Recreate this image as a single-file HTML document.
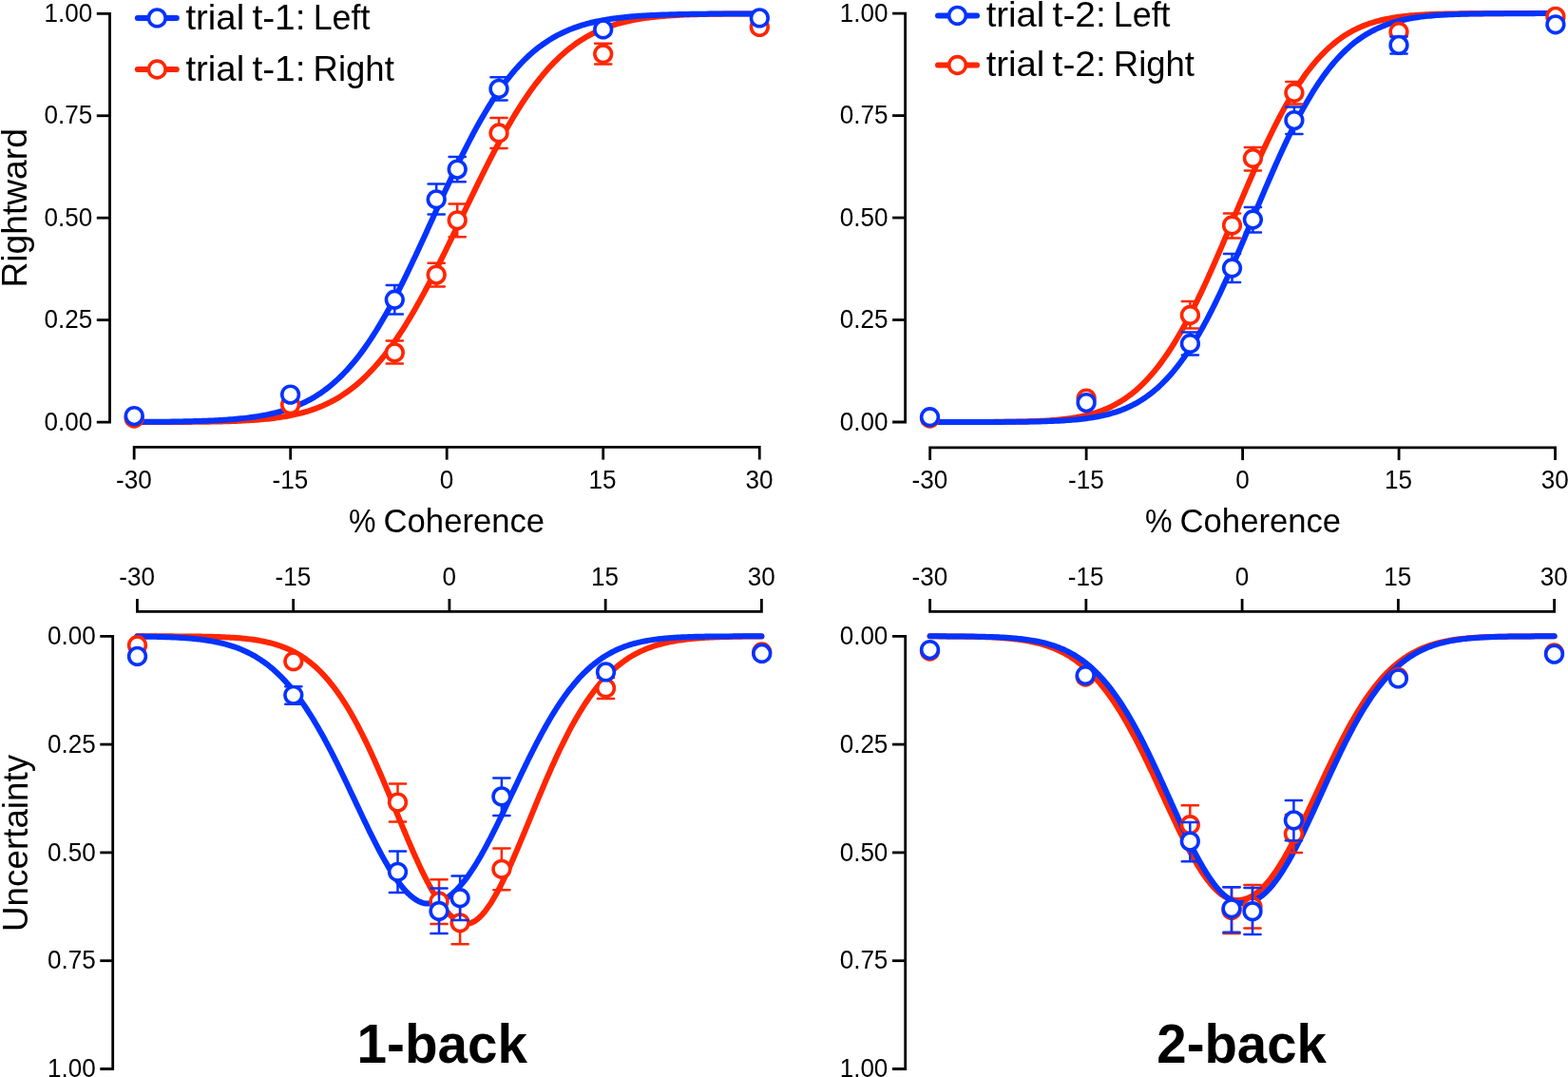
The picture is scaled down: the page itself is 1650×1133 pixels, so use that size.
<!DOCTYPE html>
<html><head><meta charset="utf-8"><title>Figure</title>
<style>html,body{margin:0;padding:0;background:#fff;overflow:hidden}svg{display:block}</style>
</head><body>
<svg width="1650" height="1133" viewBox="0 0 1650 1133" font-family='"Liberation Sans", Arial, sans-serif'>
<rect width="1650" height="1133" fill="#fff"/>
<path d="M101.80,14.30H115.50V444.10H101.80" fill="none" stroke="#000" stroke-width="2.8" stroke-linejoin="miter" stroke-linecap="butt"/>
<text transform="translate(46.47,452.80) scale(0.9650,1)" font-size="27" font-weight="normal">0.00</text>
<line x1="101.80" y1="336.65" x2="115.50" y2="336.65" stroke="#000" stroke-width="2.8" stroke-linecap="butt"/>
<text transform="translate(46.47,345.35) scale(0.9650,1)" font-size="27" font-weight="normal">0.25</text>
<line x1="101.80" y1="229.20" x2="115.50" y2="229.20" stroke="#000" stroke-width="2.8" stroke-linecap="butt"/>
<text transform="translate(46.47,237.90) scale(0.9650,1)" font-size="27" font-weight="normal">0.50</text>
<line x1="101.80" y1="121.75" x2="115.50" y2="121.75" stroke="#000" stroke-width="2.8" stroke-linecap="butt"/>
<text transform="translate(46.47,130.45) scale(0.9650,1)" font-size="27" font-weight="normal">0.75</text>
<text transform="translate(46.47,23.00) scale(0.9650,1)" font-size="27" font-weight="normal">1.00</text>
<path d="M141.16,483.60V470.30H799.24V483.60" fill="none" stroke="#000" stroke-width="2.8" stroke-linejoin="miter" stroke-linecap="butt"/>
<text transform="translate(122.07,514.00) scale(0.9650,1)" font-size="27" font-weight="normal">-30</text>
<line x1="305.68" y1="470.30" x2="305.68" y2="483.60" stroke="#000" stroke-width="2.8" stroke-linecap="butt"/>
<text transform="translate(286.59,514.00) scale(0.9650,1)" font-size="27" font-weight="normal">-15</text>
<line x1="470.20" y1="470.30" x2="470.20" y2="483.60" stroke="#000" stroke-width="2.8" stroke-linecap="butt"/>
<text transform="translate(462.77,514.00) scale(0.9650,1)" font-size="27" font-weight="normal">0</text>
<line x1="634.72" y1="470.30" x2="634.72" y2="483.60" stroke="#000" stroke-width="2.8" stroke-linecap="butt"/>
<text transform="translate(619.60,514.00) scale(0.9650,1)" font-size="27" font-weight="normal">15</text>
<text transform="translate(784.51,514.00) scale(0.9650,1)" font-size="27" font-weight="normal">30</text>
<path d="M939.10,14.10H952.60V444.00H939.10" fill="none" stroke="#000" stroke-width="2.8" stroke-linejoin="miter" stroke-linecap="butt"/>
<text transform="translate(883.77,452.70) scale(0.9650,1)" font-size="27" font-weight="normal">0.00</text>
<line x1="939.10" y1="336.52" x2="952.60" y2="336.52" stroke="#000" stroke-width="2.8" stroke-linecap="butt"/>
<text transform="translate(883.77,345.22) scale(0.9650,1)" font-size="27" font-weight="normal">0.25</text>
<line x1="939.10" y1="229.05" x2="952.60" y2="229.05" stroke="#000" stroke-width="2.8" stroke-linecap="butt"/>
<text transform="translate(883.77,237.75) scale(0.9650,1)" font-size="27" font-weight="normal">0.50</text>
<line x1="939.10" y1="121.58" x2="952.60" y2="121.58" stroke="#000" stroke-width="2.8" stroke-linecap="butt"/>
<text transform="translate(883.77,130.28) scale(0.9650,1)" font-size="27" font-weight="normal">0.75</text>
<text transform="translate(883.77,22.80) scale(0.9650,1)" font-size="27" font-weight="normal">1.00</text>
<path d="M978.65,484.10V470.80H1636.55V484.10" fill="none" stroke="#000" stroke-width="2.8" stroke-linejoin="miter" stroke-linecap="butt"/>
<text transform="translate(959.56,514.00) scale(0.9650,1)" font-size="27" font-weight="normal">-30</text>
<line x1="1143.12" y1="470.80" x2="1143.12" y2="484.10" stroke="#000" stroke-width="2.8" stroke-linecap="butt"/>
<text transform="translate(1124.04,514.00) scale(0.9650,1)" font-size="27" font-weight="normal">-15</text>
<line x1="1307.60" y1="470.80" x2="1307.60" y2="484.10" stroke="#000" stroke-width="2.8" stroke-linecap="butt"/>
<text transform="translate(1300.17,514.00) scale(0.9650,1)" font-size="27" font-weight="normal">0</text>
<line x1="1472.07" y1="470.80" x2="1472.07" y2="484.10" stroke="#000" stroke-width="2.8" stroke-linecap="butt"/>
<text transform="translate(1456.96,514.00) scale(0.9650,1)" font-size="27" font-weight="normal">15</text>
<text transform="translate(1621.82,514.00) scale(0.9650,1)" font-size="27" font-weight="normal">30</text>
<path d="M105.30,669.30H118.70V1124.50H105.30" fill="none" stroke="#000" stroke-width="2.8" stroke-linejoin="miter" stroke-linecap="butt"/>
<text transform="translate(49.97,678.00) scale(0.9650,1)" font-size="27" font-weight="normal">0.00</text>
<line x1="105.30" y1="783.10" x2="118.70" y2="783.10" stroke="#000" stroke-width="2.8" stroke-linecap="butt"/>
<text transform="translate(49.97,791.80) scale(0.9650,1)" font-size="27" font-weight="normal">0.25</text>
<line x1="105.30" y1="896.90" x2="118.70" y2="896.90" stroke="#000" stroke-width="2.8" stroke-linecap="butt"/>
<text transform="translate(49.97,905.60) scale(0.9650,1)" font-size="27" font-weight="normal">0.50</text>
<line x1="105.30" y1="1010.70" x2="118.70" y2="1010.70" stroke="#000" stroke-width="2.8" stroke-linecap="butt"/>
<text transform="translate(49.97,1019.40) scale(0.9650,1)" font-size="27" font-weight="normal">0.75</text>
<text transform="translate(49.97,1133.20) scale(0.9650,1)" font-size="27" font-weight="normal">1.00</text>
<path d="M144.40,630.00V643.30H801.40V630.00" fill="none" stroke="#000" stroke-width="2.8" stroke-linejoin="miter" stroke-linecap="butt"/>
<text transform="translate(125.31,616.30) scale(0.9650,1)" font-size="27" font-weight="normal">-30</text>
<line x1="308.65" y1="643.30" x2="308.65" y2="630.00" stroke="#000" stroke-width="2.8" stroke-linecap="butt"/>
<text transform="translate(289.56,616.30) scale(0.9650,1)" font-size="27" font-weight="normal">-15</text>
<line x1="472.90" y1="643.30" x2="472.90" y2="630.00" stroke="#000" stroke-width="2.8" stroke-linecap="butt"/>
<text transform="translate(465.47,616.30) scale(0.9650,1)" font-size="27" font-weight="normal">0</text>
<line x1="637.15" y1="643.30" x2="637.15" y2="630.00" stroke="#000" stroke-width="2.8" stroke-linecap="butt"/>
<text transform="translate(622.03,616.30) scale(0.9650,1)" font-size="27" font-weight="normal">15</text>
<text transform="translate(786.67,616.30) scale(0.9650,1)" font-size="27" font-weight="normal">30</text>
<path d="M939.00,669.30H952.70V1124.50H939.00" fill="none" stroke="#000" stroke-width="2.8" stroke-linejoin="miter" stroke-linecap="butt"/>
<text transform="translate(883.67,678.00) scale(0.9650,1)" font-size="27" font-weight="normal">0.00</text>
<line x1="939.00" y1="783.10" x2="952.70" y2="783.10" stroke="#000" stroke-width="2.8" stroke-linecap="butt"/>
<text transform="translate(883.67,791.80) scale(0.9650,1)" font-size="27" font-weight="normal">0.25</text>
<line x1="939.00" y1="896.90" x2="952.70" y2="896.90" stroke="#000" stroke-width="2.8" stroke-linecap="butt"/>
<text transform="translate(883.67,905.60) scale(0.9650,1)" font-size="27" font-weight="normal">0.50</text>
<line x1="939.00" y1="1010.70" x2="952.70" y2="1010.70" stroke="#000" stroke-width="2.8" stroke-linecap="butt"/>
<text transform="translate(883.67,1019.40) scale(0.9650,1)" font-size="27" font-weight="normal">0.75</text>
<text transform="translate(883.67,1133.20) scale(0.9650,1)" font-size="27" font-weight="normal">1.00</text>
<path d="M978.60,630.00V643.30H1635.60V630.00" fill="none" stroke="#000" stroke-width="2.8" stroke-linejoin="miter" stroke-linecap="butt"/>
<text transform="translate(959.51,616.30) scale(0.9650,1)" font-size="27" font-weight="normal">-30</text>
<line x1="1142.85" y1="643.30" x2="1142.85" y2="630.00" stroke="#000" stroke-width="2.8" stroke-linecap="butt"/>
<text transform="translate(1123.76,616.30) scale(0.9650,1)" font-size="27" font-weight="normal">-15</text>
<line x1="1307.10" y1="643.30" x2="1307.10" y2="630.00" stroke="#000" stroke-width="2.8" stroke-linecap="butt"/>
<text transform="translate(1299.67,616.30) scale(0.9650,1)" font-size="27" font-weight="normal">0</text>
<line x1="1471.35" y1="643.30" x2="1471.35" y2="630.00" stroke="#000" stroke-width="2.8" stroke-linecap="butt"/>
<text transform="translate(1456.23,616.30) scale(0.9650,1)" font-size="27" font-weight="normal">15</text>
<text transform="translate(1620.87,616.30) scale(0.9650,1)" font-size="27" font-weight="normal">30</text>
<text transform="translate(366.88,559.70) scale(0.8984,1)" font-size="35.7" font-weight="normal">%</text>
<text transform="translate(403.57,559.70) scale(0.9711,1)" font-size="35.7" font-weight="normal">Coherence</text>
<text transform="translate(1204.88,559.70) scale(0.8984,1)" font-size="35.7" font-weight="normal">%</text>
<text transform="translate(1241.57,559.70) scale(0.9711,1)" font-size="35.7" font-weight="normal">Coherence</text>
<text transform="translate(27.90,302.58) rotate(-90) scale(1.0191,1)" font-size="36.5" font-weight="normal">Rightward</text>
<text transform="translate(28.70,979.96) rotate(-90) scale(1.0084,1)" font-size="36.5" font-weight="normal">Uncertainty</text>
<text transform="translate(375.62,1118.30) scale(0.9766,1)" font-size="58" font-weight="bold">1-back</text>
<text transform="translate(1217.33,1118.30) scale(0.9717,1)" font-size="58" font-weight="bold">2-back</text>
<line x1="144.80" y1="18.90" x2="185.80" y2="18.90" stroke="#0433FF" stroke-width="6" stroke-linecap="round"/>
<circle cx="165.30" cy="18.90" r="8.85" fill="#fff" stroke="#0433FF" stroke-width="3.6"/>
<text transform="translate(195.43,30.80) scale(1.0493,1)" font-size="36.5" font-weight="normal">trial</text>
<text transform="translate(265.42,30.80) scale(1.0632,1)" font-size="36.5" font-weight="normal">t-1:</text>
<text transform="translate(329.63,30.80) scale(0.9814,1)" font-size="36.5" font-weight="normal">Left</text>
<line x1="144.80" y1="73.00" x2="185.80" y2="73.00" stroke="#FF2600" stroke-width="6" stroke-linecap="round"/>
<circle cx="165.30" cy="73.00" r="8.85" fill="#fff" stroke="#FF2600" stroke-width="3.6"/>
<text transform="translate(195.43,84.50) scale(1.0493,1)" font-size="36.5" font-weight="normal">trial</text>
<text transform="translate(265.42,84.50) scale(1.0632,1)" font-size="36.5" font-weight="normal">t-1:</text>
<text transform="translate(329.58,84.50) scale(1.0007,1)" font-size="36.5" font-weight="normal">Right</text>
<line x1="987.00" y1="16.40" x2="1028.00" y2="16.40" stroke="#0433FF" stroke-width="6" stroke-linecap="round"/>
<circle cx="1007.50" cy="16.40" r="8.85" fill="#fff" stroke="#0433FF" stroke-width="3.6"/>
<text transform="translate(1037.63,28.20) scale(1.0493,1)" font-size="36.5" font-weight="normal">trial</text>
<text transform="translate(1107.62,28.20) scale(1.0632,1)" font-size="36.5" font-weight="normal">t-2:</text>
<text transform="translate(1171.83,28.20) scale(0.9814,1)" font-size="36.5" font-weight="normal">Left</text>
<line x1="987.00" y1="68.50" x2="1028.00" y2="68.50" stroke="#FF2600" stroke-width="6" stroke-linecap="round"/>
<circle cx="1007.50" cy="68.50" r="8.85" fill="#fff" stroke="#FF2600" stroke-width="3.6"/>
<text transform="translate(1037.63,80.00) scale(1.0493,1)" font-size="36.5" font-weight="normal">trial</text>
<text transform="translate(1107.62,80.00) scale(1.0632,1)" font-size="36.5" font-weight="normal">t-2:</text>
<text transform="translate(1171.78,80.00) scale(1.0007,1)" font-size="36.5" font-weight="normal">Right</text>
<path d="M141.16,444.08 L143.35,444.08 L145.55,444.07 L147.74,444.07 L149.93,444.07 L152.13,444.06 L154.32,444.06 L156.52,444.06 L158.71,444.05 L160.90,444.05 L163.10,444.05 L165.29,444.04 L167.48,444.04 L169.68,444.03 L171.87,444.02 L174.06,444.02 L176.26,444.01 L178.45,444.00 L180.64,443.99 L182.84,443.98 L185.03,443.97 L187.23,443.96 L189.42,443.95 L191.61,443.94 L193.81,443.93 L196.00,443.91 L198.19,443.90 L200.39,443.88 L202.58,443.86 L204.77,443.84 L206.97,443.82 L209.16,443.79 L211.36,443.77 L213.55,443.74 L215.74,443.71 L217.94,443.68 L220.13,443.65 L222.32,443.61 L224.52,443.57 L226.71,443.53 L228.90,443.48 L231.10,443.44 L233.29,443.38 L235.48,443.33 L237.68,443.27 L239.87,443.20 L242.07,443.13 L244.26,443.06 L246.45,442.98 L248.65,442.90 L250.84,442.81 L253.03,442.71 L255.23,442.60 L257.42,442.49 L259.61,442.37 L261.81,442.25 L264.00,442.11 L266.20,441.97 L268.39,441.81 L270.58,441.65 L272.78,441.48 L274.97,441.29 L277.16,441.09 L279.36,440.88 L281.55,440.66 L283.74,440.42 L285.94,440.17 L288.13,439.90 L290.32,439.62 L292.52,439.32 L294.71,439.00 L296.91,438.66 L299.10,438.30 L301.29,437.92 L303.49,437.52 L305.68,437.10 L307.87,436.65 L310.07,436.18 L312.26,435.68 L314.45,435.15 L316.65,434.60 L318.84,434.02 L321.04,433.40 L323.23,432.76 L325.42,432.08 L327.62,431.36 L329.81,430.61 L332.00,429.83 L334.20,429.00 L336.39,428.13 L338.58,427.23 L340.78,426.28 L342.97,425.28 L345.16,424.24 L347.36,423.15 L349.55,422.02 L351.75,420.83 L353.94,419.59 L356.13,418.30 L358.33,416.96 L360.52,415.56 L362.71,414.10 L364.91,412.59 L367.10,411.01 L369.29,409.37 L371.49,407.68 L373.68,405.91 L375.88,404.09 L378.07,402.20 L380.26,400.24 L382.46,398.21 L384.65,396.11 L386.84,393.95 L389.04,391.71 L391.23,389.40 L393.42,387.02 L395.62,384.57 L397.81,382.05 L400.00,379.45 L402.20,376.78 L404.39,374.03 L406.59,371.21 L408.78,368.32 L410.97,365.35 L413.17,362.31 L415.36,359.19 L417.55,356.00 L419.75,352.74 L421.94,349.41 L424.13,346.01 L426.33,342.54 L428.52,339.00 L430.72,335.39 L432.91,331.71 L435.10,327.97 L437.30,324.17 L439.49,320.31 L441.68,316.39 L443.88,312.41 L446.07,308.37 L448.26,304.28 L450.46,300.14 L452.65,295.95 L454.84,291.71 L457.04,287.44 L459.23,283.12 L461.43,278.76 L463.62,274.37 L465.81,269.94 L468.01,265.49 L470.20,261.00 L472.39,256.50 L474.59,251.98 L476.78,247.44 L478.97,242.88 L481.17,238.32 L483.36,233.75 L485.56,229.18 L487.75,224.60 L489.94,220.03 L492.14,215.47 L494.33,210.92 L496.52,206.38 L498.72,201.85 L500.91,197.35 L503.10,192.87 L505.30,188.42 L507.49,183.99 L509.68,179.60 L511.88,175.24 L514.07,170.92 L516.27,166.64 L518.46,162.41 L520.65,158.22 L522.85,154.08 L525.04,149.99 L527.23,145.95 L529.43,141.97 L531.62,138.05 L533.81,134.19 L536.01,130.39 L538.20,126.65 L540.40,122.98 L542.59,119.37 L544.78,115.83 L546.98,112.36 L549.17,108.95 L551.36,105.62 L553.56,102.36 L555.75,99.18 L557.94,96.06 L560.14,93.02 L562.33,90.06 L564.52,87.16 L566.72,84.34 L568.91,81.60 L571.11,78.93 L573.30,76.33 L575.49,73.80 L577.69,71.35 L579.88,68.97 L582.07,66.67 L584.27,64.43 L586.46,62.27 L588.65,60.17 L590.85,58.14 L593.04,56.19 L595.24,54.29 L597.43,52.47 L599.62,50.71 L601.82,49.01 L604.01,47.37 L606.20,45.80 L608.40,44.28 L610.59,42.83 L612.78,41.43 L614.98,40.08 L617.17,38.79 L619.36,37.56 L621.56,36.37 L623.75,35.24 L625.95,34.15 L628.14,33.11 L630.33,32.11 L632.53,31.16 L634.72,30.26 L636.91,29.39 L639.11,28.57 L641.30,27.78 L643.49,27.03 L645.69,26.32 L647.88,25.64 L650.08,24.99 L652.27,24.38 L654.46,23.79 L656.66,23.24 L658.85,22.72 L661.04,22.22 L663.24,21.75 L665.43,21.30 L667.62,20.88 L669.82,20.48 L672.01,20.10 L674.20,19.74 L676.40,19.40 L678.59,19.08 L680.79,18.78 L682.98,18.50 L685.17,18.23 L687.37,17.98 L689.56,17.74 L691.75,17.52 L693.95,17.31 L696.14,17.11 L698.33,16.92 L700.53,16.75 L702.72,16.58 L704.92,16.43 L707.11,16.29 L709.30,16.15 L711.50,16.02 L713.69,15.91 L715.88,15.80 L718.08,15.69 L720.27,15.59 L722.46,15.50 L724.66,15.42 L726.85,15.34 L729.04,15.26 L731.24,15.20 L733.43,15.13 L735.63,15.07 L737.82,15.02 L740.01,14.96 L742.21,14.91 L744.40,14.87 L746.59,14.83 L748.79,14.79 L750.98,14.75 L753.17,14.72 L755.37,14.69 L757.56,14.66 L759.76,14.63 L761.95,14.61 L764.14,14.58 L766.34,14.56 L768.53,14.54 L770.72,14.52 L772.92,14.50 L775.11,14.49 L777.30,14.47 L779.50,14.46 L781.69,14.45 L783.88,14.44 L786.08,14.43 L788.27,14.42 L790.47,14.41 L792.66,14.40 L794.85,14.39 L797.05,14.38 L799.24,14.38" stroke="#FF2600" stroke-width="6" fill="none" stroke-linecap="round" stroke-linejoin="round"/>
<path d="M141.16,443.93 L143.35,443.92 L145.55,443.91 L147.74,443.90 L149.93,443.89 L152.13,443.87 L154.32,443.86 L156.52,443.84 L158.71,443.83 L160.90,443.81 L163.10,443.79 L165.29,443.77 L167.48,443.75 L169.68,443.73 L171.87,443.71 L174.06,443.68 L176.26,443.66 L178.45,443.63 L180.64,443.60 L182.84,443.56 L185.03,443.53 L187.23,443.49 L189.42,443.46 L191.61,443.42 L193.81,443.37 L196.00,443.33 L198.19,443.28 L200.39,443.22 L202.58,443.17 L204.77,443.11 L206.97,443.05 L209.16,442.98 L211.36,442.91 L213.55,442.83 L215.74,442.76 L217.94,442.67 L220.13,442.58 L222.32,442.49 L224.52,442.38 L226.71,442.28 L228.90,442.16 L231.10,442.04 L233.29,441.91 L235.48,441.78 L237.68,441.64 L239.87,441.48 L242.07,441.32 L244.26,441.15 L246.45,440.97 L248.65,440.78 L250.84,440.57 L253.03,440.36 L255.23,440.13 L257.42,439.89 L259.61,439.64 L261.81,439.37 L264.00,439.08 L266.20,438.78 L268.39,438.47 L270.58,438.13 L272.78,437.78 L274.97,437.40 L277.16,437.01 L279.36,436.59 L281.55,436.16 L283.74,435.69 L285.94,435.21 L288.13,434.70 L290.32,434.16 L292.52,433.59 L294.71,432.99 L296.91,432.37 L299.10,431.71 L301.29,431.01 L303.49,430.28 L305.68,429.52 L307.87,428.72 L310.07,427.88 L312.26,426.99 L314.45,426.07 L316.65,425.10 L318.84,424.09 L321.04,423.03 L323.23,421.92 L325.42,420.76 L327.62,419.55 L329.81,418.28 L332.00,416.96 L334.20,415.59 L336.39,414.15 L338.58,412.65 L340.78,411.10 L342.97,409.48 L345.16,407.79 L347.36,406.04 L349.55,404.22 L351.75,402.33 L353.94,400.36 L356.13,398.33 L358.33,396.22 L360.52,394.04 L362.71,391.78 L364.91,389.44 L367.10,387.03 L369.29,384.54 L371.49,381.96 L373.68,379.31 L375.88,376.57 L378.07,373.75 L380.26,370.85 L382.46,367.87 L384.65,364.80 L386.84,361.65 L389.04,358.42 L391.23,355.11 L393.42,351.71 L395.62,348.24 L397.81,344.68 L400.00,341.05 L402.20,337.33 L404.39,333.54 L406.59,329.68 L408.78,325.74 L410.97,321.73 L413.17,317.65 L415.36,313.50 L417.55,309.29 L419.75,305.02 L421.94,300.68 L424.13,296.29 L426.33,291.84 L428.52,287.35 L430.72,282.80 L432.91,278.21 L435.10,273.58 L437.30,268.91 L439.49,264.21 L441.68,259.48 L443.88,254.73 L446.07,249.95 L448.26,245.15 L450.46,240.34 L452.65,235.52 L454.84,230.70 L457.04,225.87 L459.23,221.05 L461.43,216.23 L463.62,211.42 L465.81,206.63 L468.01,201.86 L470.20,197.12 L472.39,192.40 L474.59,187.71 L476.78,183.05 L478.97,178.44 L481.17,173.87 L483.36,169.34 L485.56,164.86 L487.75,160.43 L489.94,156.06 L492.14,151.75 L494.33,147.50 L496.52,143.31 L498.72,139.19 L500.91,135.14 L503.10,131.15 L505.30,127.24 L507.49,123.41 L509.68,119.65 L511.88,115.96 L514.07,112.36 L516.27,108.83 L518.46,105.39 L520.65,102.02 L522.85,98.74 L525.04,95.54 L527.23,92.42 L529.43,89.39 L531.62,86.44 L533.81,83.57 L536.01,80.78 L538.20,78.07 L540.40,75.45 L542.59,72.91 L544.78,70.44 L546.98,68.06 L549.17,65.75 L551.36,63.52 L553.56,61.37 L555.75,59.29 L557.94,57.28 L560.14,55.35 L562.33,53.48 L564.52,51.69 L566.72,49.96 L568.91,48.30 L571.11,46.70 L573.30,45.17 L575.49,43.70 L577.69,42.28 L579.88,40.93 L582.07,39.63 L584.27,38.39 L586.46,37.19 L588.65,36.05 L590.85,34.96 L593.04,33.92 L595.24,32.93 L597.43,31.97 L599.62,31.07 L601.82,30.20 L604.01,29.37 L606.20,28.59 L608.40,27.84 L610.59,27.12 L612.78,26.44 L614.98,25.79 L617.17,25.18 L619.36,24.59 L621.56,24.03 L623.75,23.51 L625.95,23.00 L628.14,22.53 L630.33,22.07 L632.53,21.65 L634.72,21.24 L636.91,20.85 L639.11,20.49 L641.30,20.14 L643.49,19.81 L645.69,19.50 L647.88,19.21 L650.08,18.93 L652.27,18.66 L654.46,18.42 L656.66,18.18 L658.85,17.96 L661.04,17.75 L663.24,17.55 L665.43,17.36 L667.62,17.18 L669.82,17.02 L672.01,16.86 L674.20,16.71 L676.40,16.57 L678.59,16.44 L680.79,16.31 L682.98,16.19 L685.17,16.08 L687.37,15.98 L689.56,15.88 L691.75,15.78 L693.95,15.70 L696.14,15.61 L698.33,15.54 L700.53,15.46 L702.72,15.39 L704.92,15.33 L707.11,15.27 L709.30,15.21 L711.50,15.16 L713.69,15.10 L715.88,15.06 L718.08,15.01 L720.27,14.97 L722.46,14.93 L724.66,14.89 L726.85,14.86 L729.04,14.82 L731.24,14.79 L733.43,14.76 L735.63,14.73 L737.82,14.71 L740.01,14.68 L742.21,14.66 L744.40,14.64 L746.59,14.62 L748.79,14.60 L750.98,14.58 L753.17,14.57 L755.37,14.55 L757.56,14.53 L759.76,14.52 L761.95,14.51 L764.14,14.49 L766.34,14.48 L768.53,14.47 L770.72,14.46 L772.92,14.45 L775.11,14.44 L777.30,14.43 L779.50,14.43 L781.69,14.42 L783.88,14.41 L786.08,14.41 L788.27,14.40 L790.47,14.39 L792.66,14.39 L794.85,14.38 L797.05,14.38 L799.24,14.37" stroke="#0433FF" stroke-width="6" fill="none" stroke-linecap="round" stroke-linejoin="round"/>
<path d="M406.70,358.60H423.90M415.30,358.60V382.50M406.70,382.50H423.90" stroke="#FF2600" stroke-width="2.5" fill="none" stroke-linecap="round"/>
<path d="M450.60,276.80H467.80M459.20,276.80V301.40M450.60,301.40H467.80" stroke="#FF2600" stroke-width="2.5" fill="none" stroke-linecap="round"/>
<path d="M472.60,214.40H489.80M481.20,214.40V249.30M472.60,249.30H489.80" stroke="#FF2600" stroke-width="2.5" fill="none" stroke-linecap="round"/>
<path d="M516.40,124.10H533.60M525.00,124.10V155.90M516.40,155.90H533.60" stroke="#FF2600" stroke-width="2.5" fill="none" stroke-linecap="round"/>
<path d="M626.10,45.80H643.30M634.70,45.80V67.60M626.10,67.60H643.30" stroke="#FF2600" stroke-width="2.5" fill="none" stroke-linecap="round"/>
<circle cx="141.20" cy="440.00" r="8.85" fill="#fff" stroke="#FF2600" stroke-width="3.6"/>
<circle cx="305.60" cy="425.70" r="8.85" fill="#fff" stroke="#FF2600" stroke-width="3.6"/>
<circle cx="415.30" cy="370.90" r="8.85" fill="#fff" stroke="#FF2600" stroke-width="3.6"/>
<circle cx="459.20" cy="289.10" r="8.85" fill="#fff" stroke="#FF2600" stroke-width="3.6"/>
<circle cx="481.20" cy="231.80" r="8.85" fill="#fff" stroke="#FF2600" stroke-width="3.6"/>
<circle cx="525.00" cy="140.00" r="8.85" fill="#fff" stroke="#FF2600" stroke-width="3.6"/>
<circle cx="634.70" cy="56.70" r="8.85" fill="#fff" stroke="#FF2600" stroke-width="3.6"/>
<circle cx="799.30" cy="28.40" r="8.85" fill="#fff" stroke="#FF2600" stroke-width="3.6"/>
<path d="M406.70,300.00H423.90M415.30,300.00V330.60M406.70,330.60H423.90" stroke="#0433FF" stroke-width="2.5" fill="none" stroke-linecap="round"/>
<path d="M450.60,193.60H467.80M459.20,193.60V225.40M450.60,225.40H467.80" stroke="#0433FF" stroke-width="2.5" fill="none" stroke-linecap="round"/>
<path d="M472.60,164.90H489.80M481.20,164.90V191.20M472.60,191.20H489.80" stroke="#0433FF" stroke-width="2.5" fill="none" stroke-linecap="round"/>
<path d="M516.40,81.30H533.60M525.00,81.30V105.60M516.40,105.60H533.60" stroke="#0433FF" stroke-width="2.5" fill="none" stroke-linecap="round"/>
<circle cx="141.20" cy="437.60" r="8.85" fill="#fff" stroke="#0433FF" stroke-width="3.6"/>
<circle cx="305.60" cy="415.10" r="8.85" fill="#fff" stroke="#0433FF" stroke-width="3.6"/>
<circle cx="415.30" cy="315.20" r="8.85" fill="#fff" stroke="#0433FF" stroke-width="3.6"/>
<circle cx="459.20" cy="209.80" r="8.85" fill="#fff" stroke="#0433FF" stroke-width="3.6"/>
<circle cx="481.20" cy="178.10" r="8.85" fill="#fff" stroke="#0433FF" stroke-width="3.6"/>
<circle cx="525.00" cy="93.40" r="8.85" fill="#fff" stroke="#0433FF" stroke-width="3.6"/>
<circle cx="634.70" cy="30.90" r="8.85" fill="#fff" stroke="#0433FF" stroke-width="3.6"/>
<circle cx="799.30" cy="18.90" r="8.85" fill="#fff" stroke="#0433FF" stroke-width="3.6"/>
<path d="M978.65,444.00 L980.84,444.00 L983.04,444.00 L985.23,444.00 L987.42,443.99 L989.61,443.99 L991.81,443.99 L994.00,443.99 L996.19,443.99 L998.39,443.99 L1000.58,443.99 L1002.77,443.99 L1004.97,443.99 L1007.16,443.98 L1009.35,443.98 L1011.54,443.98 L1013.74,443.98 L1015.93,443.97 L1018.12,443.97 L1020.32,443.97 L1022.51,443.96 L1024.70,443.96 L1026.90,443.95 L1029.09,443.95 L1031.28,443.94 L1033.47,443.93 L1035.67,443.93 L1037.86,443.92 L1040.05,443.91 L1042.25,443.90 L1044.44,443.89 L1046.63,443.87 L1048.83,443.86 L1051.02,443.84 L1053.21,443.82 L1055.40,443.80 L1057.60,443.78 L1059.79,443.76 L1061.98,443.73 L1064.18,443.70 L1066.37,443.67 L1068.56,443.64 L1070.76,443.60 L1072.95,443.56 L1075.14,443.51 L1077.34,443.46 L1079.53,443.41 L1081.72,443.35 L1083.91,443.28 L1086.11,443.21 L1088.30,443.14 L1090.49,443.05 L1092.69,442.96 L1094.88,442.86 L1097.07,442.75 L1099.26,442.63 L1101.46,442.50 L1103.65,442.37 L1105.84,442.22 L1108.04,442.05 L1110.23,441.88 L1112.42,441.69 L1114.62,441.48 L1116.81,441.26 L1119.00,441.03 L1121.19,440.77 L1123.39,440.50 L1125.58,440.20 L1127.77,439.88 L1129.97,439.54 L1132.16,439.18 L1134.35,438.79 L1136.55,438.37 L1138.74,437.92 L1140.93,437.45 L1143.12,436.94 L1145.32,436.39 L1147.51,435.82 L1149.70,435.20 L1151.90,434.55 L1154.09,433.85 L1156.28,433.11 L1158.48,432.33 L1160.67,431.50 L1162.86,430.62 L1165.05,429.69 L1167.25,428.71 L1169.44,427.68 L1171.63,426.58 L1173.83,425.43 L1176.02,424.22 L1178.21,422.94 L1180.41,421.60 L1182.60,420.18 L1184.79,418.70 L1186.98,417.15 L1189.18,415.53 L1191.37,413.83 L1193.56,412.05 L1195.76,410.19 L1197.95,408.25 L1200.14,406.23 L1202.34,404.12 L1204.53,401.93 L1206.72,399.65 L1208.91,397.28 L1211.11,394.82 L1213.30,392.26 L1215.49,389.62 L1217.69,386.88 L1219.88,384.05 L1222.07,381.12 L1224.27,378.10 L1226.46,374.99 L1228.65,371.78 L1230.84,368.47 L1233.04,365.07 L1235.23,361.57 L1237.42,357.98 L1239.62,354.30 L1241.81,350.52 L1244.00,346.66 L1246.20,342.70 L1248.39,338.66 L1250.58,334.53 L1252.77,330.32 L1254.97,326.03 L1257.16,321.65 L1259.35,317.20 L1261.55,312.68 L1263.74,308.09 L1265.93,303.43 L1268.13,298.70 L1270.32,293.92 L1272.51,289.08 L1274.70,284.18 L1276.90,279.24 L1279.09,274.25 L1281.28,269.22 L1283.48,264.16 L1285.67,259.06 L1287.86,253.93 L1290.06,248.79 L1292.25,243.62 L1294.44,238.44 L1296.63,233.26 L1298.83,228.06 L1301.02,222.87 L1303.21,217.69 L1305.41,212.51 L1307.60,207.35 L1309.79,202.21 L1311.99,197.10 L1314.18,192.01 L1316.37,186.96 L1318.56,181.95 L1320.76,176.98 L1322.95,172.05 L1325.14,167.18 L1327.34,162.36 L1329.53,157.59 L1331.72,152.89 L1333.92,148.26 L1336.11,143.69 L1338.30,139.20 L1340.49,134.78 L1342.69,130.43 L1344.88,126.17 L1347.07,121.99 L1349.27,117.89 L1351.46,113.89 L1353.65,109.96 L1355.85,106.13 L1358.04,102.39 L1360.23,98.74 L1362.42,95.19 L1364.62,91.73 L1366.81,88.36 L1369.00,85.09 L1371.20,81.92 L1373.39,78.84 L1375.58,75.85 L1377.78,72.96 L1379.97,70.17 L1382.16,67.46 L1384.36,64.86 L1386.55,62.34 L1388.74,59.91 L1390.93,57.58 L1393.13,55.33 L1395.32,53.17 L1397.51,51.09 L1399.71,49.10 L1401.90,47.19 L1404.09,45.37 L1406.28,43.62 L1408.48,41.95 L1410.67,40.35 L1412.86,38.82 L1415.06,37.37 L1417.25,35.99 L1419.44,34.67 L1421.64,33.42 L1423.83,32.23 L1426.02,31.10 L1428.21,30.02 L1430.41,29.01 L1432.60,28.05 L1434.79,27.14 L1436.99,26.28 L1439.18,25.47 L1441.37,24.70 L1443.57,23.98 L1445.76,23.30 L1447.95,22.66 L1450.14,22.06 L1452.34,21.49 L1454.53,20.96 L1456.72,20.47 L1458.92,20.00 L1461.11,19.57 L1463.30,19.16 L1465.50,18.78 L1467.69,18.42 L1469.88,18.09 L1472.07,17.78 L1474.27,17.50 L1476.46,17.23 L1478.65,16.98 L1480.85,16.75 L1483.04,16.54 L1485.23,16.34 L1487.43,16.15 L1489.62,15.98 L1491.81,15.83 L1494.00,15.68 L1496.20,15.55 L1498.39,15.42 L1500.58,15.31 L1502.78,15.20 L1504.97,15.11 L1507.16,15.02 L1509.36,14.93 L1511.55,14.86 L1513.74,14.79 L1515.93,14.73 L1518.13,14.67 L1520.32,14.62 L1522.51,14.57 L1524.71,14.52 L1526.90,14.48 L1529.09,14.45 L1531.29,14.41 L1533.48,14.38 L1535.67,14.36 L1537.86,14.33 L1540.06,14.31 L1542.25,14.29 L1544.44,14.27 L1546.64,14.25 L1548.83,14.24 L1551.02,14.22 L1553.22,14.21 L1555.41,14.20 L1557.60,14.19 L1559.79,14.18 L1561.99,14.17 L1564.18,14.16 L1566.37,14.16 L1568.57,14.15 L1570.76,14.14 L1572.95,14.14 L1575.15,14.14 L1577.34,14.13 L1579.53,14.13 L1581.72,14.13 L1583.92,14.12 L1586.11,14.12 L1588.30,14.12 L1590.50,14.12 L1592.69,14.11 L1594.88,14.11 L1597.08,14.11 L1599.27,14.11 L1601.46,14.11 L1603.65,14.11 L1605.85,14.11 L1608.04,14.11 L1610.23,14.11 L1612.43,14.10 L1614.62,14.10 L1616.81,14.10 L1619.01,14.10 L1621.20,14.10 L1623.39,14.10 L1625.59,14.10 L1627.78,14.10 L1629.97,14.10 L1632.16,14.10 L1634.36,14.10 L1636.55,14.10" stroke="#FF2600" stroke-width="6" fill="none" stroke-linecap="round" stroke-linejoin="round"/>
<path d="M978.65,444.00 L980.84,444.00 L983.04,444.00 L985.23,444.00 L987.42,444.00 L989.61,443.99 L991.81,443.99 L994.00,443.99 L996.19,443.99 L998.39,443.99 L1000.58,443.99 L1002.77,443.99 L1004.97,443.99 L1007.16,443.99 L1009.35,443.99 L1011.54,443.98 L1013.74,443.98 L1015.93,443.98 L1018.12,443.98 L1020.32,443.98 L1022.51,443.97 L1024.70,443.97 L1026.90,443.97 L1029.09,443.96 L1031.28,443.96 L1033.47,443.96 L1035.67,443.95 L1037.86,443.95 L1040.05,443.94 L1042.25,443.93 L1044.44,443.93 L1046.63,443.92 L1048.83,443.91 L1051.02,443.90 L1053.21,443.89 L1055.40,443.88 L1057.60,443.87 L1059.79,443.86 L1061.98,443.84 L1064.18,443.83 L1066.37,443.81 L1068.56,443.79 L1070.76,443.77 L1072.95,443.75 L1075.14,443.73 L1077.34,443.70 L1079.53,443.67 L1081.72,443.64 L1083.91,443.60 L1086.11,443.57 L1088.30,443.53 L1090.49,443.48 L1092.69,443.43 L1094.88,443.38 L1097.07,443.32 L1099.26,443.26 L1101.46,443.19 L1103.65,443.12 L1105.84,443.04 L1108.04,442.96 L1110.23,442.86 L1112.42,442.76 L1114.62,442.66 L1116.81,442.54 L1119.00,442.41 L1121.19,442.28 L1123.39,442.13 L1125.58,441.97 L1127.77,441.80 L1129.97,441.62 L1132.16,441.42 L1134.35,441.21 L1136.55,440.98 L1138.74,440.74 L1140.93,440.48 L1143.12,440.20 L1145.32,439.89 L1147.51,439.57 L1149.70,439.23 L1151.90,438.86 L1154.09,438.47 L1156.28,438.05 L1158.48,437.60 L1160.67,437.12 L1162.86,436.62 L1165.05,436.08 L1167.25,435.50 L1169.44,434.89 L1171.63,434.24 L1173.83,433.55 L1176.02,432.82 L1178.21,432.05 L1180.41,431.23 L1182.60,430.37 L1184.79,429.45 L1186.98,428.49 L1189.18,427.47 L1191.37,426.39 L1193.56,425.26 L1195.76,424.07 L1197.95,422.82 L1200.14,421.50 L1202.34,420.12 L1204.53,418.66 L1206.72,417.14 L1208.91,415.55 L1211.11,413.88 L1213.30,412.14 L1215.49,410.31 L1217.69,408.41 L1219.88,406.43 L1222.07,404.36 L1224.27,402.20 L1226.46,399.96 L1228.65,397.63 L1230.84,395.21 L1233.04,392.70 L1235.23,390.10 L1237.42,387.40 L1239.62,384.61 L1241.81,381.73 L1244.00,378.75 L1246.20,375.67 L1248.39,372.50 L1250.58,369.23 L1252.77,365.86 L1254.97,362.40 L1257.16,358.85 L1259.35,355.20 L1261.55,351.45 L1263.74,347.62 L1265.93,343.69 L1268.13,339.67 L1270.32,335.57 L1272.51,331.38 L1274.70,327.10 L1276.90,322.75 L1279.09,318.31 L1281.28,313.80 L1283.48,309.22 L1285.67,304.57 L1287.86,299.85 L1290.06,295.06 L1292.25,290.22 L1294.44,285.32 L1296.63,280.38 L1298.83,275.38 L1301.02,270.34 L1303.21,265.27 L1305.41,260.16 L1307.60,255.02 L1309.79,249.85 L1311.99,244.67 L1314.18,239.47 L1316.37,234.26 L1318.56,229.05 L1320.76,223.84 L1322.95,218.63 L1325.14,213.43 L1327.34,208.25 L1329.53,203.08 L1331.72,197.94 L1333.92,192.83 L1336.11,187.76 L1338.30,182.72 L1340.49,177.72 L1342.69,172.78 L1344.88,167.88 L1347.07,163.04 L1349.27,158.25 L1351.46,153.53 L1353.65,148.88 L1355.85,144.30 L1358.04,139.79 L1360.23,135.35 L1362.42,131.00 L1364.62,126.72 L1366.81,122.53 L1369.00,118.43 L1371.20,114.41 L1373.39,110.48 L1375.58,106.65 L1377.78,102.90 L1379.97,99.25 L1382.16,95.70 L1384.36,92.24 L1386.55,88.87 L1388.74,85.60 L1390.93,82.43 L1393.13,79.35 L1395.32,76.37 L1397.51,73.49 L1399.71,70.70 L1401.90,68.00 L1404.09,65.40 L1406.28,62.89 L1408.48,60.47 L1410.67,58.14 L1412.86,55.90 L1415.06,53.74 L1417.25,51.67 L1419.44,49.69 L1421.64,47.79 L1423.83,45.96 L1426.02,44.22 L1428.21,42.55 L1430.41,40.96 L1432.60,39.44 L1434.79,37.98 L1436.99,36.60 L1439.18,35.28 L1441.37,34.03 L1443.57,32.84 L1445.76,31.71 L1447.95,30.63 L1450.14,29.61 L1452.34,28.65 L1454.53,27.73 L1456.72,26.87 L1458.92,26.05 L1461.11,25.28 L1463.30,24.55 L1465.50,23.86 L1467.69,23.21 L1469.88,22.60 L1472.07,22.02 L1474.27,21.48 L1476.46,20.98 L1478.65,20.50 L1480.85,20.05 L1483.04,19.63 L1485.23,19.24 L1487.43,18.87 L1489.62,18.53 L1491.81,18.21 L1494.00,17.90 L1496.20,17.62 L1498.39,17.36 L1500.58,17.12 L1502.78,16.89 L1504.97,16.68 L1507.16,16.48 L1509.36,16.30 L1511.55,16.13 L1513.74,15.97 L1515.93,15.82 L1518.13,15.69 L1520.32,15.56 L1522.51,15.44 L1524.71,15.34 L1526.90,15.24 L1529.09,15.14 L1531.29,15.06 L1533.48,14.98 L1535.67,14.91 L1537.86,14.84 L1540.06,14.78 L1542.25,14.72 L1544.44,14.67 L1546.64,14.62 L1548.83,14.57 L1551.02,14.53 L1553.22,14.50 L1555.41,14.46 L1557.60,14.43 L1559.79,14.40 L1561.99,14.37 L1564.18,14.35 L1566.37,14.33 L1568.57,14.31 L1570.76,14.29 L1572.95,14.27 L1575.15,14.26 L1577.34,14.24 L1579.53,14.23 L1581.72,14.22 L1583.92,14.21 L1586.11,14.20 L1588.30,14.19 L1590.50,14.18 L1592.69,14.17 L1594.88,14.17 L1597.08,14.16 L1599.27,14.15 L1601.46,14.15 L1603.65,14.14 L1605.85,14.14 L1608.04,14.14 L1610.23,14.13 L1612.43,14.13 L1614.62,14.13 L1616.81,14.12 L1619.01,14.12 L1621.20,14.12 L1623.39,14.12 L1625.59,14.12 L1627.78,14.11 L1629.97,14.11 L1632.16,14.11 L1634.36,14.11 L1636.55,14.11" stroke="#0433FF" stroke-width="6" fill="none" stroke-linecap="round" stroke-linejoin="round"/>
<path d="M1243.80,317.00H1261.00M1252.40,317.00V345.60M1243.80,345.60H1261.00" stroke="#FF2600" stroke-width="2.5" fill="none" stroke-linecap="round"/>
<path d="M1287.90,224.40H1305.10M1296.50,224.40V250.50M1287.90,250.50H1305.10" stroke="#FF2600" stroke-width="2.5" fill="none" stroke-linecap="round"/>
<path d="M1309.80,155.00H1327.00M1318.40,155.00V179.40M1309.80,179.40H1327.00" stroke="#FF2600" stroke-width="2.5" fill="none" stroke-linecap="round"/>
<path d="M1353.30,86.00H1370.50M1361.90,86.00V109.50M1353.30,109.50H1370.50" stroke="#FF2600" stroke-width="2.5" fill="none" stroke-linecap="round"/>
<circle cx="978.50" cy="440.00" r="8.85" fill="#fff" stroke="#FF2600" stroke-width="3.6"/>
<circle cx="1143.10" cy="419.10" r="8.85" fill="#fff" stroke="#FF2600" stroke-width="3.6"/>
<circle cx="1252.40" cy="331.50" r="8.85" fill="#fff" stroke="#FF2600" stroke-width="3.6"/>
<circle cx="1296.50" cy="237.00" r="8.85" fill="#fff" stroke="#FF2600" stroke-width="3.6"/>
<circle cx="1318.40" cy="166.50" r="8.85" fill="#fff" stroke="#FF2600" stroke-width="3.6"/>
<circle cx="1361.90" cy="97.50" r="8.85" fill="#fff" stroke="#FF2600" stroke-width="3.6"/>
<circle cx="1472.00" cy="33.50" r="8.85" fill="#fff" stroke="#FF2600" stroke-width="3.6"/>
<circle cx="1636.90" cy="17.40" r="8.85" fill="#fff" stroke="#FF2600" stroke-width="3.6"/>
<path d="M1243.80,349.50H1261.00M1252.40,349.50V373.50M1243.80,373.50H1261.00" stroke="#0433FF" stroke-width="2.5" fill="none" stroke-linecap="round"/>
<path d="M1287.90,267.00H1305.10M1296.50,267.00V297.00M1287.90,297.00H1305.10" stroke="#0433FF" stroke-width="2.5" fill="none" stroke-linecap="round"/>
<path d="M1309.80,218.00H1327.00M1318.40,218.00V244.50M1309.80,244.50H1327.00" stroke="#0433FF" stroke-width="2.5" fill="none" stroke-linecap="round"/>
<path d="M1353.30,112.50H1370.50M1361.90,112.50V141.00M1353.30,141.00H1370.50" stroke="#0433FF" stroke-width="2.5" fill="none" stroke-linecap="round"/>
<path d="M1463.40,38.40H1480.60M1472.00,38.40V56.50M1463.40,56.50H1480.60" stroke="#0433FF" stroke-width="2.5" fill="none" stroke-linecap="round"/>
<circle cx="978.50" cy="438.70" r="8.85" fill="#fff" stroke="#0433FF" stroke-width="3.6"/>
<circle cx="1143.10" cy="423.60" r="8.85" fill="#fff" stroke="#0433FF" stroke-width="3.6"/>
<circle cx="1252.40" cy="361.50" r="8.85" fill="#fff" stroke="#0433FF" stroke-width="3.6"/>
<circle cx="1296.50" cy="282.00" r="8.85" fill="#fff" stroke="#0433FF" stroke-width="3.6"/>
<circle cx="1318.40" cy="231.00" r="8.85" fill="#fff" stroke="#0433FF" stroke-width="3.6"/>
<circle cx="1361.90" cy="126.60" r="8.85" fill="#fff" stroke="#0433FF" stroke-width="3.6"/>
<circle cx="1472.00" cy="47.40" r="8.85" fill="#fff" stroke="#0433FF" stroke-width="3.6"/>
<circle cx="1636.90" cy="25.80" r="8.85" fill="#fff" stroke="#0433FF" stroke-width="3.6"/>
<path d="M144.40,669.31 L146.04,669.31 L147.69,669.31 L149.33,669.31 L150.97,669.31 L152.61,669.31 L154.25,669.31 L155.90,669.32 L157.54,669.32 L159.18,669.32 L160.82,669.32 L162.47,669.32 L164.11,669.33 L165.75,669.33 L167.40,669.33 L169.04,669.33 L170.68,669.34 L172.32,669.34 L173.96,669.35 L175.61,669.35 L177.25,669.35 L178.89,669.36 L180.54,669.36 L182.18,669.37 L183.82,669.38 L185.46,669.38 L187.10,669.39 L188.75,669.40 L190.39,669.41 L192.03,669.42 L193.68,669.43 L195.32,669.44 L196.96,669.45 L198.60,669.47 L200.25,669.48 L201.89,669.50 L203.53,669.52 L205.17,669.53 L206.81,669.55 L208.46,669.57 L210.10,669.60 L211.74,669.62 L213.38,669.65 L215.03,669.68 L216.67,669.71 L218.31,669.74 L219.95,669.78 L221.60,669.82 L223.24,669.86 L224.88,669.90 L226.53,669.95 L228.17,670.00 L229.81,670.06 L231.45,670.12 L233.09,670.18 L234.74,670.25 L236.38,670.32 L238.02,670.39 L239.66,670.48 L241.31,670.56 L242.95,670.66 L244.59,670.76 L246.24,670.86 L247.88,670.98 L249.52,671.10 L251.16,671.23 L252.80,671.36 L254.45,671.51 L256.09,671.66 L257.73,671.83 L259.38,672.00 L261.02,672.19 L262.66,672.38 L264.30,672.59 L265.94,672.81 L267.59,673.05 L269.23,673.29 L270.87,673.55 L272.51,673.83 L274.16,674.12 L275.80,674.43 L277.44,674.76 L279.09,675.10 L280.73,675.46 L282.37,675.85 L284.01,676.25 L285.65,676.67 L287.30,677.12 L288.94,677.59 L290.58,678.08 L292.23,678.60 L293.87,679.14 L295.51,679.72 L297.15,680.32 L298.79,680.94 L300.44,681.60 L302.08,682.29 L303.72,683.01 L305.37,683.77 L307.01,684.56 L308.65,685.38 L310.29,686.25 L311.94,687.15 L313.58,688.08 L315.22,689.06 L316.86,690.08 L318.50,691.15 L320.15,692.25 L321.79,693.40 L323.43,694.60 L325.07,695.84 L326.72,697.14 L328.36,698.48 L330.00,699.87 L331.64,701.31 L333.29,702.81 L334.93,704.36 L336.57,705.96 L338.21,707.62 L339.86,709.33 L341.50,711.10 L343.14,712.93 L344.78,714.82 L346.43,716.77 L348.07,718.78 L349.71,720.85 L351.35,722.98 L353.00,725.17 L354.64,727.43 L356.28,729.74 L357.92,732.12 L359.57,734.57 L361.21,737.07 L362.85,739.64 L364.50,742.28 L366.14,744.97 L367.78,747.73 L369.42,750.55 L371.06,753.44 L372.71,756.38 L374.35,759.39 L375.99,762.46 L377.63,765.58 L379.28,768.77 L380.92,772.01 L382.56,775.31 L384.20,778.66 L385.85,782.06 L387.49,785.52 L389.13,789.03 L390.77,792.58 L392.42,796.18 L394.06,799.82 L395.70,803.51 L397.35,807.24 L398.99,811.00 L400.63,814.79 L402.27,818.62 L403.91,822.48 L405.56,826.36 L407.20,830.27 L408.84,834.19 L410.49,838.14 L412.13,842.09 L413.77,846.06 L415.41,850.03 L417.05,854.00 L418.70,857.98 L420.34,861.94 L421.98,865.90 L423.62,869.85 L425.27,873.78 L426.91,877.69 L428.55,881.57 L430.19,885.42 L431.84,889.25 L433.48,893.03 L435.12,896.77 L436.76,900.47 L438.41,904.11 L440.05,907.70 L441.69,911.24 L443.33,914.71 L444.98,918.11 L446.62,921.44 L448.26,924.69 L449.90,927.87 L451.55,930.96 L453.19,933.97 L454.83,936.88 L456.47,939.70 L458.12,942.42 L459.76,945.04 L461.40,947.55 L463.05,949.95 L464.69,952.24 L466.33,954.41 L467.97,956.47 L469.61,958.40 L471.26,960.21 L472.90,961.90 L474.54,963.45 L476.19,964.88 L477.83,966.17 L479.47,967.32 L481.11,968.34 L482.75,969.22 L484.40,969.96 L486.04,970.56 L487.68,971.02 L489.32,971.34 L490.97,971.52 L492.61,971.54 L494.25,971.30 L495.89,970.82 L497.54,970.14 L499.18,969.26 L500.82,968.19 L502.47,966.94 L504.11,965.52 L505.75,963.94 L507.39,962.20 L509.03,960.32 L510.68,958.28 L512.32,956.11 L513.96,953.80 L515.61,951.36 L517.25,948.80 L518.89,946.12 L520.53,943.33 L522.17,940.44 L523.82,937.44 L525.46,934.34 L527.10,931.15 L528.75,927.88 L530.39,924.52 L532.03,921.09 L533.67,917.59 L535.32,914.02 L536.96,910.39 L538.60,906.71 L540.24,902.97 L541.88,899.19 L543.53,895.37 L545.17,891.51 L546.81,887.62 L548.45,883.70 L550.10,879.75 L551.74,875.79 L553.38,871.81 L555.02,867.83 L556.67,863.83 L558.31,859.84 L559.95,855.84 L561.60,851.85 L563.24,847.87 L564.88,843.91 L566.52,839.95 L568.16,836.02 L569.81,832.11 L571.45,828.22 L573.09,824.36 L574.73,820.53 L576.38,816.73 L578.02,812.97 L579.66,809.25 L581.30,805.57 L582.95,801.93 L584.59,798.33 L586.23,794.78 L587.88,791.28 L589.52,787.83 L591.16,784.43 L592.80,781.08 L594.44,777.79 L596.09,774.55 L597.73,771.36 L599.37,768.23 L601.01,765.16 L602.66,762.15 L604.30,759.20 L605.94,756.31 L607.58,753.47 L609.23,750.70 L610.87,747.99 L612.51,745.34 L614.15,742.74 L615.80,740.21 L617.44,737.74 L619.08,735.33 L620.72,732.98 L622.37,730.69 L624.01,728.46 L625.65,726.29 L627.29,724.18 L628.94,722.13 L630.58,720.13 L632.22,718.19 L633.87,716.31 L635.51,714.48 L637.15,712.70 L638.79,710.98 L640.43,709.32 L642.08,707.70 L643.72,706.14 L645.36,704.62 L647.00,703.16 L648.65,701.74 L650.29,700.38 L651.93,699.06 L653.57,697.78 L655.22,696.55 L656.86,695.36 L658.50,694.22 L660.14,693.11 L661.79,692.05 L663.43,691.03 L665.07,690.04 L666.72,689.09 L668.36,688.18 L670.00,687.31 L671.64,686.46 L673.28,685.66 L674.93,684.88 L676.57,684.13 L678.21,683.42 L679.86,682.74 L681.50,682.08 L683.14,681.45 L684.78,680.85 L686.42,680.27 L688.07,679.72 L689.71,679.20 L691.35,678.69 L693.00,678.21 L694.64,677.75 L696.28,677.31 L697.92,676.89 L699.57,676.50 L701.21,676.11 L702.85,675.75 L704.49,675.41 L706.13,675.08 L707.78,674.76 L709.42,674.46 L711.06,674.18 L712.70,673.91 L714.35,673.65 L715.99,673.41 L717.63,673.18 L719.27,672.96 L720.92,672.75 L722.56,672.55 L724.20,672.37 L725.85,672.19 L727.49,672.02 L729.13,671.86 L730.77,671.71 L732.41,671.57 L734.06,671.43 L735.70,671.31 L737.34,671.18 L738.98,671.07 L740.63,670.96 L742.27,670.86 L743.91,670.76 L745.55,670.67 L747.20,670.59 L748.84,670.51 L750.48,670.43 L752.12,670.36 L753.77,670.29 L755.41,670.23 L757.05,670.17 L758.69,670.11 L760.34,670.06 L761.98,670.01 L763.62,669.97 L765.26,669.92 L766.91,669.88 L768.55,669.84 L770.19,669.81 L771.83,669.77 L773.48,669.74 L775.12,669.71 L776.76,669.68 L778.40,669.66 L780.05,669.63 L781.69,669.61 L783.33,669.59 L784.97,669.57 L786.62,669.55 L788.26,669.53 L789.90,669.52 L791.54,669.50 L793.19,669.49 L794.83,669.47 L796.47,669.46 L798.12,669.45 L799.76,669.44 L801.40,669.43" stroke="#FF2600" stroke-width="6" fill="none" stroke-linecap="round" stroke-linejoin="round"/>
<path d="M144.40,669.53 L146.04,669.55 L147.69,669.57 L149.33,669.59 L150.97,669.61 L152.61,669.64 L154.25,669.66 L155.90,669.69 L157.54,669.72 L159.18,669.75 L160.82,669.78 L162.47,669.82 L164.11,669.85 L165.75,669.89 L167.40,669.93 L169.04,669.98 L170.68,670.03 L172.32,670.08 L173.96,670.13 L175.61,670.19 L177.25,670.25 L178.89,670.32 L180.54,670.39 L182.18,670.46 L183.82,670.54 L185.46,670.62 L187.10,670.71 L188.75,670.80 L190.39,670.90 L192.03,671.00 L193.68,671.11 L195.32,671.23 L196.96,671.35 L198.60,671.48 L200.25,671.62 L201.89,671.77 L203.53,671.92 L205.17,672.09 L206.81,672.26 L208.46,672.44 L210.10,672.63 L211.74,672.83 L213.38,673.04 L215.03,673.26 L216.67,673.50 L218.31,673.75 L219.95,674.01 L221.60,674.28 L223.24,674.57 L224.88,674.87 L226.53,675.18 L228.17,675.52 L229.81,675.86 L231.45,676.23 L233.09,676.61 L234.74,677.01 L236.38,677.43 L238.02,677.87 L239.66,678.33 L241.31,678.81 L242.95,679.31 L244.59,679.84 L246.24,680.38 L247.88,680.95 L249.52,681.55 L251.16,682.17 L252.80,682.82 L254.45,683.50 L256.09,684.20 L257.73,684.93 L259.38,685.70 L261.02,686.49 L262.66,687.31 L264.30,688.17 L265.94,689.06 L267.59,689.98 L269.23,690.94 L270.87,691.94 L272.51,692.97 L274.16,694.04 L275.80,695.14 L277.44,696.29 L279.09,697.48 L280.73,698.70 L282.37,699.97 L284.01,701.28 L285.65,702.64 L287.30,704.03 L288.94,705.48 L290.58,706.96 L292.23,708.50 L293.87,710.08 L295.51,711.70 L297.15,713.38 L298.79,715.10 L300.44,716.88 L302.08,718.70 L303.72,720.57 L305.37,722.49 L307.01,724.46 L308.65,726.49 L310.29,728.56 L311.94,730.69 L313.58,732.86 L315.22,735.09 L316.86,737.37 L318.50,739.70 L320.15,742.08 L321.79,744.52 L323.43,747.00 L325.07,749.54 L326.72,752.12 L328.36,754.76 L330.00,757.44 L331.64,760.17 L333.29,762.95 L334.93,765.78 L336.57,768.65 L338.21,771.57 L339.86,774.54 L341.50,777.54 L343.14,780.59 L344.78,783.67 L346.43,786.80 L348.07,789.96 L349.71,793.16 L351.35,796.40 L353.00,799.66 L354.64,802.96 L356.28,806.29 L357.92,809.64 L359.57,813.01 L361.21,816.41 L362.85,819.83 L364.50,823.27 L366.14,826.72 L367.78,830.18 L369.42,833.66 L371.06,837.14 L372.71,840.62 L374.35,844.11 L375.99,847.60 L377.63,851.08 L379.28,854.55 L380.92,858.01 L382.56,861.47 L384.20,864.90 L385.85,868.31 L387.49,871.70 L389.13,875.07 L390.77,878.40 L392.42,881.70 L394.06,884.96 L395.70,888.19 L397.35,891.37 L398.99,894.50 L400.63,897.58 L402.27,900.61 L403.91,903.58 L405.56,906.49 L407.20,909.34 L408.84,912.11 L410.49,914.82 L412.13,917.45 L413.77,920.01 L415.41,922.48 L417.05,924.87 L418.70,927.18 L420.34,929.39 L421.98,931.51 L423.62,933.53 L425.27,935.45 L426.91,937.27 L428.55,938.99 L430.19,940.60 L431.84,942.10 L433.48,943.48 L435.12,944.76 L436.76,945.91 L438.41,946.94 L440.05,947.85 L441.69,948.64 L443.33,949.30 L444.98,949.83 L446.62,950.23 L448.26,950.49 L449.90,950.61 L451.55,950.60 L453.19,950.52 L454.83,950.36 L456.47,950.11 L458.12,949.78 L459.76,949.37 L461.40,948.86 L463.05,948.25 L464.69,947.56 L466.33,946.77 L467.97,945.88 L469.61,944.90 L471.26,943.83 L472.90,942.65 L474.54,941.39 L476.19,940.03 L477.83,938.57 L479.47,937.02 L481.11,935.38 L482.75,933.65 L484.40,931.82 L486.04,929.91 L487.68,927.91 L489.32,925.83 L490.97,923.66 L492.61,921.41 L494.25,919.08 L495.89,916.67 L497.54,914.18 L499.18,911.63 L500.82,909.00 L502.47,906.30 L504.11,903.53 L505.75,900.71 L507.39,897.82 L509.03,894.87 L510.68,891.87 L512.32,888.82 L513.96,885.72 L515.61,882.57 L517.25,879.38 L518.89,876.14 L520.53,872.87 L522.17,869.57 L523.82,866.23 L525.46,862.87 L527.10,859.49 L528.75,856.08 L530.39,852.65 L532.03,849.21 L533.67,845.75 L535.32,842.29 L536.96,838.81 L538.60,835.34 L540.24,831.86 L541.88,828.39 L543.53,824.92 L545.17,821.46 L546.81,818.01 L548.45,814.58 L550.10,811.16 L551.74,807.76 L553.38,804.37 L555.02,801.02 L556.67,797.68 L558.31,794.38 L559.95,791.11 L561.60,787.86 L563.24,784.65 L564.88,781.48 L566.52,778.34 L568.16,775.25 L569.81,772.19 L571.45,769.18 L573.09,766.21 L574.73,763.28 L576.38,760.40 L578.02,757.57 L579.66,754.79 L581.30,752.05 L582.95,749.37 L584.59,746.74 L586.23,744.16 L587.88,741.63 L589.52,739.15 L591.16,736.73 L592.80,734.36 L594.44,732.04 L596.09,729.78 L597.73,727.57 L599.37,725.42 L601.01,723.32 L602.66,721.27 L604.30,719.28 L605.94,717.34 L607.58,715.46 L609.23,713.62 L610.87,711.84 L612.51,710.12 L614.15,708.44 L615.80,706.81 L617.44,705.24 L619.08,703.71 L620.72,702.24 L622.37,700.81 L624.01,699.43 L625.65,698.09 L627.29,696.80 L628.94,695.56 L630.58,694.36 L632.22,693.20 L633.87,692.09 L635.51,691.01 L637.15,689.98 L638.79,688.99 L640.43,688.03 L642.08,687.12 L643.72,686.24 L645.36,685.39 L647.00,684.58 L648.65,683.81 L650.29,683.06 L651.93,682.35 L653.57,681.67 L655.22,681.02 L656.86,680.40 L658.50,679.80 L660.14,679.23 L661.79,678.69 L663.43,678.17 L665.07,677.68 L666.72,677.21 L668.36,676.77 L670.00,676.34 L671.64,675.94 L673.28,675.55 L674.93,675.19 L676.57,674.84 L678.21,674.52 L679.86,674.20 L681.50,673.91 L683.14,673.63 L684.78,673.36 L686.42,673.11 L688.07,672.88 L689.71,672.65 L691.35,672.44 L693.00,672.24 L694.64,672.05 L696.28,671.88 L697.92,671.71 L699.57,671.55 L701.21,671.40 L702.85,671.26 L704.49,671.13 L706.13,671.01 L707.78,670.89 L709.42,670.79 L711.06,670.68 L712.70,670.59 L714.35,670.50 L715.99,670.41 L717.63,670.34 L719.27,670.26 L720.92,670.19 L722.56,670.13 L724.20,670.07 L725.85,670.01 L727.49,669.96 L729.13,669.91 L730.77,669.87 L732.41,669.82 L734.06,669.78 L735.70,669.75 L737.34,669.71 L738.98,669.68 L740.63,669.65 L742.27,669.62 L743.91,669.60 L745.55,669.58 L747.20,669.55 L748.84,669.53 L750.48,669.51 L752.12,669.50 L753.77,669.48 L755.41,669.47 L757.05,669.45 L758.69,669.44 L760.34,669.43 L761.98,669.42 L763.62,669.41 L765.26,669.40 L766.91,669.39 L768.55,669.38 L770.19,669.38 L771.83,669.37 L773.48,669.36 L775.12,669.36 L776.76,669.35 L778.40,669.35 L780.05,669.34 L781.69,669.34 L783.33,669.34 L784.97,669.33 L786.62,669.33 L788.26,669.33 L789.90,669.32 L791.54,669.32 L793.19,669.32 L794.83,669.32 L796.47,669.32 L798.12,669.32 L799.76,669.31 L801.40,669.31" stroke="#0433FF" stroke-width="6" fill="none" stroke-linecap="round" stroke-linejoin="round"/>
<path d="M409.90,824.40H427.10M418.50,824.40V864.40M409.90,864.40H427.10" stroke="#FF2600" stroke-width="2.5" fill="none" stroke-linecap="round"/>
<path d="M453.40,925.30H470.60M462.00,925.30V972.00M453.40,972.00H470.60" stroke="#FF2600" stroke-width="2.5" fill="none" stroke-linecap="round"/>
<path d="M475.50,948.00H492.70M484.10,948.00V993.20M475.50,993.20H492.70" stroke="#FF2600" stroke-width="2.5" fill="none" stroke-linecap="round"/>
<path d="M519.30,892.60H536.50M527.90,892.60V936.20M519.30,936.20H536.50" stroke="#FF2600" stroke-width="2.5" fill="none" stroke-linecap="round"/>
<path d="M628.90,712.90H646.10M637.50,712.90V735.10M628.90,735.10H646.10" stroke="#FF2600" stroke-width="2.5" fill="none" stroke-linecap="round"/>
<circle cx="144.50" cy="678.70" r="8.85" fill="#fff" stroke="#FF2600" stroke-width="3.6"/>
<circle cx="308.80" cy="695.70" r="8.85" fill="#fff" stroke="#FF2600" stroke-width="3.6"/>
<circle cx="418.50" cy="844.10" r="8.85" fill="#fff" stroke="#FF2600" stroke-width="3.6"/>
<circle cx="462.00" cy="948.20" r="8.85" fill="#fff" stroke="#FF2600" stroke-width="3.6"/>
<circle cx="484.10" cy="970.80" r="8.85" fill="#fff" stroke="#FF2600" stroke-width="3.6"/>
<circle cx="527.90" cy="914.30" r="8.85" fill="#fff" stroke="#FF2600" stroke-width="3.6"/>
<circle cx="637.50" cy="723.90" r="8.85" fill="#fff" stroke="#FF2600" stroke-width="3.6"/>
<circle cx="801.70" cy="686.00" r="8.85" fill="#fff" stroke="#FF2600" stroke-width="3.6"/>
<path d="M300.20,722.20H317.40M308.80,722.20V740.80M300.20,740.80H317.40" stroke="#0433FF" stroke-width="2.5" fill="none" stroke-linecap="round"/>
<path d="M409.90,895.60H427.10M418.50,895.60V939.00M409.90,939.00H427.10" stroke="#0433FF" stroke-width="2.5" fill="none" stroke-linecap="round"/>
<path d="M453.40,934.50H470.60M462.00,934.50V982.10M453.40,982.10H470.60" stroke="#0433FF" stroke-width="2.5" fill="none" stroke-linecap="round"/>
<path d="M475.50,921.40H492.70M484.10,921.40V968.00M475.50,968.00H492.70" stroke="#0433FF" stroke-width="2.5" fill="none" stroke-linecap="round"/>
<path d="M519.30,818.50H536.50M527.90,818.50V857.90M519.30,857.90H536.50" stroke="#0433FF" stroke-width="2.5" fill="none" stroke-linecap="round"/>
<circle cx="144.50" cy="690.40" r="8.85" fill="#fff" stroke="#0433FF" stroke-width="3.6"/>
<circle cx="308.80" cy="731.30" r="8.85" fill="#fff" stroke="#0433FF" stroke-width="3.6"/>
<circle cx="418.50" cy="917.30" r="8.85" fill="#fff" stroke="#0433FF" stroke-width="3.6"/>
<circle cx="462.00" cy="958.50" r="8.85" fill="#fff" stroke="#0433FF" stroke-width="3.6"/>
<circle cx="484.10" cy="944.70" r="8.85" fill="#fff" stroke="#0433FF" stroke-width="3.6"/>
<circle cx="527.90" cy="837.90" r="8.85" fill="#fff" stroke="#0433FF" stroke-width="3.6"/>
<circle cx="637.50" cy="706.90" r="8.85" fill="#fff" stroke="#0433FF" stroke-width="3.6"/>
<circle cx="801.70" cy="687.40" r="8.85" fill="#fff" stroke="#0433FF" stroke-width="3.6"/>
<path d="M978.60,669.35 L980.24,669.35 L981.88,669.36 L983.53,669.36 L985.17,669.37 L986.81,669.37 L988.45,669.38 L990.10,669.39 L991.74,669.40 L993.38,669.40 L995.02,669.41 L996.67,669.42 L998.31,669.43 L999.95,669.45 L1001.60,669.46 L1003.24,669.47 L1004.88,669.49 L1006.52,669.50 L1008.16,669.52 L1009.81,669.54 L1011.45,669.56 L1013.09,669.58 L1014.73,669.60 L1016.38,669.63 L1018.02,669.65 L1019.66,669.68 L1021.30,669.71 L1022.95,669.74 L1024.59,669.78 L1026.23,669.81 L1027.88,669.85 L1029.52,669.90 L1031.16,669.94 L1032.80,669.99 L1034.44,670.04 L1036.09,670.10 L1037.73,670.16 L1039.37,670.22 L1041.01,670.29 L1042.66,670.37 L1044.30,670.44 L1045.94,670.53 L1047.59,670.61 L1049.23,670.71 L1050.87,670.81 L1052.51,670.91 L1054.15,671.03 L1055.80,671.15 L1057.44,671.27 L1059.08,671.41 L1060.72,671.55 L1062.37,671.71 L1064.01,671.87 L1065.65,672.04 L1067.29,672.22 L1068.94,672.41 L1070.58,672.61 L1072.22,672.83 L1073.87,673.06 L1075.51,673.29 L1077.15,673.55 L1078.79,673.81 L1080.43,674.10 L1082.08,674.39 L1083.72,674.71 L1085.36,675.04 L1087.00,675.38 L1088.65,675.75 L1090.29,676.13 L1091.93,676.53 L1093.57,676.96 L1095.22,677.40 L1096.86,677.87 L1098.50,678.36 L1100.14,678.87 L1101.79,679.41 L1103.43,679.97 L1105.07,680.56 L1106.71,681.18 L1108.36,681.83 L1110.00,682.50 L1111.64,683.21 L1113.28,683.94 L1114.93,684.71 L1116.57,685.51 L1118.21,686.34 L1119.86,687.21 L1121.50,688.12 L1123.14,689.06 L1124.78,690.04 L1126.42,691.06 L1128.07,692.12 L1129.71,693.22 L1131.35,694.36 L1132.99,695.55 L1134.64,696.77 L1136.28,698.05 L1137.92,699.36 L1139.56,700.73 L1141.21,702.14 L1142.85,703.60 L1144.49,705.11 L1146.13,706.67 L1147.78,708.28 L1149.42,709.94 L1151.06,711.65 L1152.70,713.41 L1154.35,715.23 L1155.99,717.10 L1157.63,719.02 L1159.27,721.00 L1160.92,723.03 L1162.56,725.12 L1164.20,727.26 L1165.85,729.46 L1167.49,731.72 L1169.13,734.03 L1170.77,736.39 L1172.41,738.81 L1174.06,741.28 L1175.70,743.81 L1177.34,746.40 L1178.98,749.04 L1180.63,751.73 L1182.27,754.47 L1183.91,757.27 L1185.55,760.12 L1187.20,763.01 L1188.84,765.96 L1190.48,768.95 L1192.12,772.00 L1193.77,775.08 L1195.41,778.21 L1197.05,781.39 L1198.69,784.60 L1200.34,787.86 L1201.98,791.15 L1203.62,794.47 L1205.26,797.83 L1206.91,801.22 L1208.55,804.64 L1210.19,808.09 L1211.84,811.56 L1213.48,815.05 L1215.12,818.56 L1216.76,822.08 L1218.40,825.62 L1220.05,829.17 L1221.69,832.73 L1223.33,836.29 L1224.97,839.85 L1226.62,843.42 L1228.26,846.97 L1229.90,850.52 L1231.54,854.05 L1233.19,857.57 L1234.83,861.08 L1236.47,864.55 L1238.12,868.01 L1239.76,871.43 L1241.40,874.82 L1243.04,878.18 L1244.68,881.49 L1246.33,884.76 L1247.97,887.98 L1249.61,891.15 L1251.25,894.27 L1252.90,897.33 L1254.54,900.33 L1256.18,903.26 L1257.82,906.12 L1259.47,908.91 L1261.11,911.62 L1262.75,914.26 L1264.39,916.81 L1266.04,919.28 L1267.68,921.66 L1269.32,923.95 L1270.96,926.14 L1272.61,928.24 L1274.25,930.24 L1275.89,932.13 L1277.53,933.92 L1279.18,935.60 L1280.82,937.18 L1282.46,938.64 L1284.10,939.99 L1285.75,941.23 L1287.39,942.34 L1289.03,943.34 L1290.67,944.22 L1292.32,944.98 L1293.96,945.62 L1295.60,946.14 L1297.24,946.53 L1298.89,946.80 L1300.53,946.94 L1302.17,946.97 L1303.81,946.90 L1305.46,946.75 L1307.10,946.51 L1308.74,946.16 L1310.38,945.72 L1312.03,945.18 L1313.67,944.53 L1315.31,943.78 L1316.95,942.93 L1318.60,941.98 L1320.24,940.92 L1321.88,939.75 L1323.52,938.49 L1325.17,937.12 L1326.81,935.65 L1328.45,934.08 L1330.10,932.41 L1331.74,930.64 L1333.38,928.77 L1335.02,926.81 L1336.66,924.76 L1338.31,922.61 L1339.95,920.38 L1341.59,918.06 L1343.23,915.65 L1344.88,913.17 L1346.52,910.60 L1348.16,907.95 L1349.80,905.23 L1351.45,902.44 L1353.09,899.58 L1354.73,896.66 L1356.38,893.67 L1358.02,890.63 L1359.66,887.52 L1361.30,884.37 L1362.94,881.16 L1364.59,877.91 L1366.23,874.62 L1367.87,871.29 L1369.51,867.92 L1371.16,864.52 L1372.80,861.09 L1374.44,857.63 L1376.08,854.15 L1377.73,850.65 L1379.37,847.14 L1381.01,843.61 L1382.65,840.08 L1384.30,836.54 L1385.94,832.99 L1387.58,829.45 L1389.22,825.91 L1390.87,822.38 L1392.51,818.85 L1394.15,815.34 L1395.79,811.85 L1397.44,808.37 L1399.08,804.92 L1400.72,801.48 L1402.37,798.08 L1404.01,794.70 L1405.65,791.35 L1407.29,788.04 L1408.93,784.76 L1410.58,781.52 L1412.22,778.31 L1413.86,775.15 L1415.50,772.03 L1417.15,768.95 L1418.79,765.92 L1420.43,762.94 L1422.07,760.00 L1423.72,757.12 L1425.36,754.28 L1427.00,751.50 L1428.64,748.77 L1430.29,746.09 L1431.93,743.47 L1433.57,740.90 L1435.21,738.39 L1436.86,735.93 L1438.50,733.53 L1440.14,731.19 L1441.78,728.90 L1443.43,726.67 L1445.07,724.49 L1446.71,722.37 L1448.35,720.31 L1450.00,718.30 L1451.64,716.35 L1453.28,714.46 L1454.92,712.62 L1456.57,710.83 L1458.21,709.10 L1459.85,707.42 L1461.49,705.79 L1463.14,704.22 L1464.78,702.70 L1466.42,701.22 L1468.07,699.80 L1469.71,698.43 L1471.35,697.10 L1472.99,695.82 L1474.63,694.59 L1476.28,693.40 L1477.92,692.26 L1479.56,691.16 L1481.20,690.10 L1482.85,689.09 L1484.49,688.11 L1486.13,687.17 L1487.77,686.27 L1489.42,685.41 L1491.06,684.59 L1492.70,683.79 L1494.34,683.04 L1495.99,682.31 L1497.63,681.62 L1499.27,680.96 L1500.91,680.33 L1502.56,679.73 L1504.20,679.15 L1505.84,678.60 L1507.48,678.08 L1509.13,677.59 L1510.77,677.11 L1512.41,676.66 L1514.05,676.24 L1515.70,675.83 L1517.34,675.45 L1518.98,675.08 L1520.62,674.74 L1522.27,674.41 L1523.91,674.10 L1525.55,673.80 L1527.19,673.52 L1528.84,673.26 L1530.48,673.01 L1532.12,672.78 L1533.76,672.55 L1535.41,672.35 L1537.05,672.15 L1538.69,671.96 L1540.33,671.79 L1541.98,671.62 L1543.62,671.47 L1545.26,671.32 L1546.90,671.19 L1548.55,671.06 L1550.19,670.94 L1551.83,670.82 L1553.47,670.72 L1555.12,670.62 L1556.76,670.53 L1558.40,670.44 L1560.04,670.36 L1561.69,670.28 L1563.33,670.21 L1564.97,670.14 L1566.61,670.08 L1568.26,670.02 L1569.90,669.97 L1571.54,669.92 L1573.18,669.87 L1574.83,669.83 L1576.47,669.79 L1578.11,669.75 L1579.75,669.72 L1581.40,669.68 L1583.04,669.65 L1584.68,669.63 L1586.32,669.60 L1587.97,669.58 L1589.61,669.55 L1591.25,669.53 L1592.89,669.51 L1594.54,669.50 L1596.18,669.48 L1597.82,669.47 L1599.46,669.45 L1601.11,669.44 L1602.75,669.43 L1604.39,669.42 L1606.03,669.41 L1607.68,669.40 L1609.32,669.39 L1610.96,669.38 L1612.60,669.37 L1614.25,669.37 L1615.89,669.36 L1617.53,669.36 L1619.17,669.35 L1620.82,669.35 L1622.46,669.34 L1624.10,669.34 L1625.74,669.34 L1627.39,669.33 L1629.03,669.33 L1630.67,669.33 L1632.32,669.32 L1633.96,669.32 L1635.60,669.32" stroke="#FF2600" stroke-width="6" fill="none" stroke-linecap="round" stroke-linejoin="round"/>
<path d="M978.60,669.33 L980.24,669.33 L981.88,669.34 L983.53,669.34 L985.17,669.34 L986.81,669.35 L988.45,669.35 L990.10,669.36 L991.74,669.36 L993.38,669.37 L995.02,669.37 L996.67,669.38 L998.31,669.39 L999.95,669.39 L1001.60,669.40 L1003.24,669.41 L1004.88,669.42 L1006.52,669.43 L1008.16,669.44 L1009.81,669.45 L1011.45,669.47 L1013.09,669.48 L1014.73,669.50 L1016.38,669.51 L1018.02,669.53 L1019.66,669.55 L1021.30,669.57 L1022.95,669.60 L1024.59,669.62 L1026.23,669.65 L1027.88,669.67 L1029.52,669.71 L1031.16,669.74 L1032.80,669.77 L1034.44,669.81 L1036.09,669.85 L1037.73,669.89 L1039.37,669.94 L1041.01,669.99 L1042.66,670.04 L1044.30,670.10 L1045.94,670.16 L1047.59,670.22 L1049.23,670.29 L1050.87,670.37 L1052.51,670.44 L1054.15,670.53 L1055.80,670.62 L1057.44,670.71 L1059.08,670.82 L1060.72,670.92 L1062.37,671.04 L1064.01,671.16 L1065.65,671.29 L1067.29,671.43 L1068.94,671.58 L1070.58,671.73 L1072.22,671.90 L1073.87,672.07 L1075.51,672.26 L1077.15,672.45 L1078.79,672.66 L1080.43,672.88 L1082.08,673.11 L1083.72,673.36 L1085.36,673.62 L1087.00,673.90 L1088.65,674.19 L1090.29,674.49 L1091.93,674.81 L1093.57,675.15 L1095.22,675.51 L1096.86,675.89 L1098.50,676.28 L1100.14,676.70 L1101.79,677.14 L1103.43,677.60 L1105.07,678.08 L1106.71,678.59 L1108.36,679.12 L1110.00,679.68 L1111.64,680.26 L1113.28,680.87 L1114.93,681.51 L1116.57,682.18 L1118.21,682.88 L1119.86,683.61 L1121.50,684.37 L1123.14,685.17 L1124.78,686.00 L1126.42,686.87 L1128.07,687.77 L1129.71,688.72 L1131.35,689.70 L1132.99,690.72 L1134.64,691.78 L1136.28,692.88 L1137.92,694.02 L1139.56,695.21 L1141.21,696.44 L1142.85,697.72 L1144.49,699.05 L1146.13,700.42 L1147.78,701.84 L1149.42,703.31 L1151.06,704.84 L1152.70,706.41 L1154.35,708.03 L1155.99,709.71 L1157.63,711.44 L1159.27,713.22 L1160.92,715.06 L1162.56,716.95 L1164.20,718.90 L1165.85,720.91 L1167.49,722.97 L1169.13,725.08 L1170.77,727.26 L1172.41,729.49 L1174.06,731.78 L1175.70,734.13 L1177.34,736.53 L1178.98,738.99 L1180.63,741.51 L1182.27,744.09 L1183.91,746.72 L1185.55,749.41 L1187.20,752.15 L1188.84,754.95 L1190.48,757.80 L1192.12,760.71 L1193.77,763.66 L1195.41,766.67 L1197.05,769.73 L1198.69,772.84 L1200.34,775.99 L1201.98,779.19 L1203.62,782.43 L1205.26,785.72 L1206.91,789.04 L1208.55,792.41 L1210.19,795.81 L1211.84,799.25 L1213.48,802.72 L1215.12,806.21 L1216.76,809.74 L1218.40,813.29 L1220.05,816.86 L1221.69,820.46 L1223.33,824.06 L1224.97,827.69 L1226.62,831.32 L1228.26,834.96 L1229.90,838.60 L1231.54,842.25 L1233.19,845.89 L1234.83,849.53 L1236.47,853.16 L1238.12,856.77 L1239.76,860.37 L1241.40,863.95 L1243.04,867.50 L1244.68,871.03 L1246.33,874.53 L1247.97,877.99 L1249.61,881.41 L1251.25,884.79 L1252.90,888.12 L1254.54,891.41 L1256.18,894.64 L1257.82,897.81 L1259.47,900.92 L1261.11,903.96 L1262.75,906.94 L1264.39,909.84 L1266.04,912.67 L1267.68,915.41 L1269.32,918.08 L1270.96,920.66 L1272.61,923.15 L1274.25,925.54 L1275.89,927.84 L1277.53,930.05 L1279.18,932.15 L1280.82,934.14 L1282.46,936.03 L1284.10,937.81 L1285.75,939.47 L1287.39,941.03 L1289.03,942.46 L1290.67,943.78 L1292.32,944.98 L1293.96,946.06 L1295.60,947.01 L1297.24,947.84 L1298.89,948.55 L1300.53,949.12 L1302.17,949.57 L1303.81,949.90 L1305.46,950.09 L1307.10,950.16 L1308.74,950.12 L1310.38,950.00 L1312.03,949.77 L1313.67,949.45 L1315.31,949.03 L1316.95,948.51 L1318.60,947.88 L1320.24,947.14 L1321.88,946.29 L1323.52,945.34 L1325.17,944.28 L1326.81,943.12 L1328.45,941.84 L1330.10,940.46 L1331.74,938.98 L1333.38,937.39 L1335.02,935.70 L1336.66,933.90 L1338.31,932.01 L1339.95,930.02 L1341.59,927.93 L1343.23,925.74 L1344.88,923.47 L1346.52,921.10 L1348.16,918.65 L1349.80,916.11 L1351.45,913.48 L1353.09,910.78 L1354.73,908.00 L1356.38,905.15 L1358.02,902.23 L1359.66,899.23 L1361.30,896.18 L1362.94,893.06 L1364.59,889.89 L1366.23,886.66 L1367.87,883.38 L1369.51,880.05 L1371.16,876.68 L1372.80,873.26 L1374.44,869.81 L1376.08,866.33 L1377.73,862.82 L1379.37,859.28 L1381.01,855.72 L1382.65,852.14 L1384.30,848.54 L1385.94,844.93 L1387.58,841.32 L1389.22,837.69 L1390.87,834.07 L1392.51,830.44 L1394.15,826.83 L1395.79,823.22 L1397.44,819.62 L1399.08,816.03 L1400.72,812.46 L1402.37,808.91 L1404.01,805.38 L1405.65,801.88 L1407.29,798.40 L1408.93,794.96 L1410.58,791.55 L1412.22,788.17 L1413.86,784.83 L1415.50,781.53 L1417.15,778.27 L1418.79,775.05 L1420.43,771.88 L1422.07,768.75 L1423.72,765.67 L1425.36,762.65 L1427.00,759.67 L1428.64,756.74 L1430.29,753.87 L1431.93,751.05 L1433.57,748.28 L1435.21,745.57 L1436.86,742.92 L1438.50,740.32 L1440.14,737.79 L1441.78,735.31 L1443.43,732.88 L1445.07,730.52 L1446.71,728.21 L1448.35,725.96 L1450.00,723.78 L1451.64,721.64 L1453.28,719.57 L1454.92,717.56 L1456.57,715.60 L1458.21,713.70 L1459.85,711.85 L1461.49,710.07 L1463.14,708.33 L1464.78,706.65 L1466.42,705.03 L1468.07,703.46 L1469.71,701.94 L1471.35,700.47 L1472.99,699.06 L1474.63,697.69 L1476.28,696.37 L1477.92,695.10 L1479.56,693.88 L1481.20,692.71 L1482.85,691.57 L1484.49,690.49 L1486.13,689.44 L1487.77,688.44 L1489.42,687.47 L1491.06,686.55 L1492.70,685.67 L1494.34,684.82 L1495.99,684.01 L1497.63,683.23 L1499.27,682.49 L1500.91,681.78 L1502.56,681.10 L1504.20,680.46 L1505.84,679.84 L1507.48,679.26 L1509.13,678.70 L1510.77,678.16 L1512.41,677.66 L1514.05,677.17 L1515.70,676.72 L1517.34,676.28 L1518.98,675.87 L1520.62,675.48 L1522.27,675.11 L1523.91,674.75 L1525.55,674.42 L1527.19,674.10 L1528.84,673.81 L1530.48,673.52 L1532.12,673.26 L1533.76,673.01 L1535.41,672.77 L1537.05,672.54 L1538.69,672.33 L1540.33,672.13 L1541.98,671.95 L1543.62,671.77 L1545.26,671.61 L1546.90,671.45 L1548.55,671.30 L1550.19,671.17 L1551.83,671.04 L1553.47,670.92 L1555.12,670.80 L1556.76,670.70 L1558.40,670.60 L1560.04,670.51 L1561.69,670.42 L1563.33,670.34 L1564.97,670.26 L1566.61,670.19 L1568.26,670.13 L1569.90,670.06 L1571.54,670.01 L1573.18,669.95 L1574.83,669.90 L1576.47,669.86 L1578.11,669.81 L1579.75,669.77 L1581.40,669.74 L1583.04,669.70 L1584.68,669.67 L1586.32,669.64 L1587.97,669.61 L1589.61,669.59 L1591.25,669.57 L1592.89,669.54 L1594.54,669.52 L1596.18,669.51 L1597.82,669.49 L1599.46,669.47 L1601.11,669.46 L1602.75,669.45 L1604.39,669.43 L1606.03,669.42 L1607.68,669.41 L1609.32,669.40 L1610.96,669.39 L1612.60,669.38 L1614.25,669.38 L1615.89,669.37 L1617.53,669.36 L1619.17,669.36 L1620.82,669.35 L1622.46,669.35 L1624.10,669.34 L1625.74,669.34 L1627.39,669.34 L1629.03,669.33 L1630.67,669.33 L1632.32,669.33 L1633.96,669.32 L1635.60,669.32" stroke="#0433FF" stroke-width="6" fill="none" stroke-linecap="round" stroke-linejoin="round"/>
<path d="M1243.70,847.30H1260.90M1252.30,847.30V888.00M1243.70,888.00H1260.90" stroke="#FF2600" stroke-width="2.5" fill="none" stroke-linecap="round"/>
<path d="M1287.40,933.30H1304.60M1296.00,933.30V982.00M1287.40,982.00H1304.60" stroke="#FF2600" stroke-width="2.5" fill="none" stroke-linecap="round"/>
<path d="M1309.40,930.90H1326.60M1318.00,930.90V976.50M1309.40,976.50H1326.60" stroke="#FF2600" stroke-width="2.5" fill="none" stroke-linecap="round"/>
<path d="M1352.80,857.00H1370.00M1361.40,857.00V897.00M1352.80,897.00H1370.00" stroke="#FF2600" stroke-width="2.5" fill="none" stroke-linecap="round"/>
<circle cx="978.50" cy="685.00" r="8.85" fill="#fff" stroke="#FF2600" stroke-width="3.6"/>
<circle cx="1142.20" cy="712.00" r="8.85" fill="#fff" stroke="#FF2600" stroke-width="3.6"/>
<circle cx="1252.30" cy="867.70" r="8.85" fill="#fff" stroke="#FF2600" stroke-width="3.6"/>
<circle cx="1296.00" cy="957.40" r="8.85" fill="#fff" stroke="#FF2600" stroke-width="3.6"/>
<circle cx="1318.00" cy="953.70" r="8.85" fill="#fff" stroke="#FF2600" stroke-width="3.6"/>
<circle cx="1361.40" cy="877.20" r="8.85" fill="#fff" stroke="#FF2600" stroke-width="3.6"/>
<circle cx="1471.30" cy="712.50" r="8.85" fill="#fff" stroke="#FF2600" stroke-width="3.6"/>
<circle cx="1635.50" cy="687.00" r="8.85" fill="#fff" stroke="#FF2600" stroke-width="3.6"/>
<path d="M1243.70,865.00H1260.90M1252.30,865.00V906.30M1243.70,906.30H1260.90" stroke="#0433FF" stroke-width="2.5" fill="none" stroke-linecap="round"/>
<path d="M1287.40,933.30H1304.60M1296.00,933.30V980.80M1287.40,980.80H1304.60" stroke="#0433FF" stroke-width="2.5" fill="none" stroke-linecap="round"/>
<path d="M1309.40,934.00H1326.60M1318.00,934.00V982.90M1309.40,982.90H1326.60" stroke="#0433FF" stroke-width="2.5" fill="none" stroke-linecap="round"/>
<path d="M1352.80,841.90H1370.00M1361.40,841.90V884.30M1352.80,884.30H1370.00" stroke="#0433FF" stroke-width="2.5" fill="none" stroke-linecap="round"/>
<circle cx="978.50" cy="683.60" r="8.85" fill="#fff" stroke="#0433FF" stroke-width="3.6"/>
<circle cx="1142.20" cy="710.50" r="8.85" fill="#fff" stroke="#0433FF" stroke-width="3.6"/>
<circle cx="1252.30" cy="885.10" r="8.85" fill="#fff" stroke="#0433FF" stroke-width="3.6"/>
<circle cx="1296.00" cy="955.80" r="8.85" fill="#fff" stroke="#0433FF" stroke-width="3.6"/>
<circle cx="1318.00" cy="958.70" r="8.85" fill="#fff" stroke="#0433FF" stroke-width="3.6"/>
<circle cx="1361.40" cy="862.90" r="8.85" fill="#fff" stroke="#0433FF" stroke-width="3.6"/>
<circle cx="1471.30" cy="713.90" r="8.85" fill="#fff" stroke="#0433FF" stroke-width="3.6"/>
<circle cx="1635.50" cy="688.10" r="8.85" fill="#fff" stroke="#0433FF" stroke-width="3.6"/>
</svg>
</body></html>
